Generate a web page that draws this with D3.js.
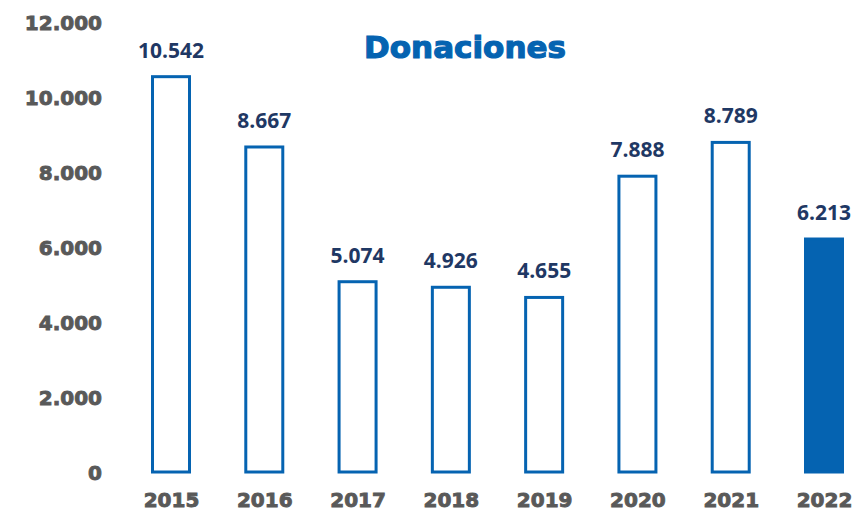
<!DOCTYPE html>
<html>
<head>
<meta charset="utf-8">
<script src="https://cdn.jsdelivr.net/npm/d3@7"></script>
<style>
  body { margin: 0; background: #fff; }
</style>
</head>
<body>
<div id="chart"></div>
<script>
var years = ["2015", "2016", "2017", "2018", "2019", "2020", "2021", "2022"];
var donations = [10542, 8667, 5074, 4926, 4655, 7888, 8789, 6213];
var yTicks = [0, 2000, 4000, 6000, 8000, 10000, 12000];

var svgWidth = 855;
var svgHeight = 511;
var blue = "#0563b1";
var grey = "#595959";

var svg = d3.select("#chart")
  .append("svg")
  .attr("width", svgWidth)
  .attr("height", svgHeight);

var data = years.map((y, i) => ({ year: y, value: donations[i] }));

// x centers of the bars
var xScale = d3.scalePoint()
  .domain(years)
  .range([171, 824]);

var yScale = d3.scaleLinear()
  .domain([0, 12000])
  .range([472, 22]);

var barWidth = 37;

// number format with "." as thousands separator
var fmt = d3.formatLocale({ decimal: ",", thousands: ".", grouping: [3], currency: ["", "€"] }).format(",d");
var fmtTick = function(d) { return d === 0 ? "0" : fmt(d); };

// y axis labels
var leftAxis = d3.axisLeft(yScale)
  .tickValues(yTicks)
  .tickFormat(fmtTick)
  .tickSize(0)
  .tickPadding(0);

var yAxis = svg.append("g")
  .attr("transform", "translate(102, 0)")
  .call(leftAxis);
yAxis.select(".domain").remove();
yAxis.selectAll("text")
  .attr("font-family", "DejaVu Sans")
  .attr("font-weight", "bold")
  .attr("font-size", "20px")
  .attr("fill", grey)
  .attr("stroke", grey)
  .attr("stroke-width", 0.9)
  .attr("dy", "0.36em");

// x axis labels
var bottomAxis = d3.axisBottom(xScale)
  .tickSize(0)
  .tickPadding(0);

var xAxis = svg.append("g")
  .attr("transform", "translate(0, 493)")
  .call(bottomAxis);
xAxis.select(".domain").remove();
xAxis.selectAll("text")
  .attr("font-family", "DejaVu Sans")
  .attr("font-weight", "bold")
  .attr("font-size", "20px")
  .attr("fill", grey)
  .attr("stroke", grey)
  .attr("stroke-width", 0.9);

// bars: outlined, last year filled
svg.selectAll(".bar")
  .data(data)
  .enter()
  .append("rect")
  .attr("class", "bar")
  .attr("x", d => xScale(d.year) - barWidth / 2)
  .attr("y", d => yScale(d.value))
  .attr("width", barWidth)
  .attr("height", d => yScale(0) - yScale(d.value))
  .attr("fill", (d, i) => i === data.length - 1 ? blue : "#fff")
  .attr("stroke", blue)
  .attr("stroke-width", 3);

// value labels
svg.selectAll(".valueLabel")
  .data(data)
  .enter()
  .append("text")
  .attr("class", "valueLabel")
  .attr("x", d => xScale(d.year))
  .attr("y", d => yScale(d.value) - 19)
  .attr("text-anchor", "middle")
  .attr("font-family", "Open Sans")
  .attr("font-weight", "bold")
  .attr("font-size", "21px")
  .attr("fill", "#1f3864")
  .text(d => fmt(d.value));

// title
svg.append("text")
  .attr("x", 465)
  .attr("y", 58)
  .attr("text-anchor", "middle")
  .attr("font-family", "DejaVu Sans")
  .attr("font-weight", "bold")
  .attr("font-size", "31px")
  .attr("fill", blue)
  .attr("stroke", blue)
  .attr("stroke-width", 1.2)
  .text("Donaciones");
</script>
</body>
</html>
